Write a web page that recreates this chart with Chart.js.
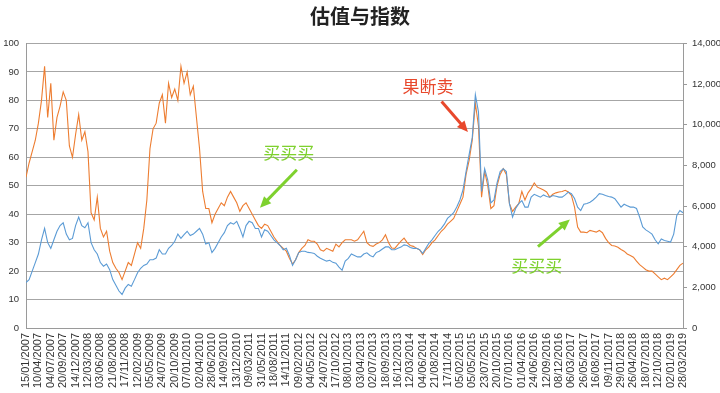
<!DOCTYPE html>
<html>
<head>
<meta charset="utf-8">
<script src="https://cdn.jsdelivr.net/npm/chart.js@4"></script>
<style>
  html, body { margin: 0; padding: 0; background: #fff; }
  #wrap { width: 720px; height: 393px; }
</style>
</head>
<body>
<div id="wrap"><canvas id="lineChart"></canvas></div>
<script>
// x axis labels, one every 4 points
const tickLabels = [
    '15/01/2007', '10/04/2007', '04/07/2007', '20/09/2007', '14/12/2007', '12/03/2008',
    '03/06/2008', '21/08/2008', '17/11/2008', '12/02/2009', '05/05/2009', '24/07/2009',
    '20/10/2009', '07/01/2010', '02/04/2010', '28/06/2010', '14/09/2010', '13/12/2010',
    '09/03/2011', '31/05/2011', '18/08/2011', '14/11/2011', '09/02/2012', '04/05/2012',
    '24/07/2012', '17/10/2012', '08/01/2013', '03/04/2013', '02/07/2013', '18/09/2013',
    '16/12/2013', '12/03/2014', '04/06/2014', '21/08/2014', '17/11/2014', '05/02/2015',
    '05/05/2015', '23/07/2015', '20/10/2015', '07/01/2016', '01/04/2016', '24/06/2016',
    '12/09/2016', '08/12/2016', '06/03/2017', '26/05/2017', '16/08/2017', '09/11/2017',
    '29/01/2018', '26/04/2018', '18/07/2018', '12/10/2018', '02/01/2019', '28/03/2019'
];
const pointsPerLabel = 4;

// valuation (left axis)
const valuation = [
    53, 58, 62, 66, 72, 80, 92, 74, 86, 66,
    74, 78, 83, 80, 64, 60, 68, 75, 66, 69,
    62, 40.5, 38, 46, 35, 32, 34, 27, 23, 21,
    19.5, 17, 20, 23, 22, 26, 30, 28, 35, 45,
    63, 70, 72, 79, 82, 72, 86, 81, 84, 80,
    92, 86, 90, 82, 85, 74, 63, 48, 42, 42,
    37, 40, 42, 44, 43, 46, 48, 46, 44, 41,
    43, 44, 42, 40, 38, 36, 35, 36.5, 36, 34,
    32, 30.5, 29, 28, 27, 24.5, 22.5, 24, 26.5, 28,
    29, 31, 30.5, 30.5, 29.5, 27.5, 27, 28, 27.5, 27,
    29.5, 28.5, 30, 31, 31, 31, 30.5, 31, 32.5, 34,
    30, 29, 28.7, 29.5, 30, 31, 32.8, 30, 28.1, 28,
    29.3, 30.5, 31.6, 30, 29, 28.7, 28, 27.5, 25.8, 27.5,
    28.5, 30, 31, 32.5, 34, 35, 36.5, 37.5, 38.5, 41,
    43.5, 46, 54, 59, 66, 79, 71, 46, 55, 50,
    42, 43, 50, 54, 56, 54, 43.7, 41, 42.5, 43.7,
    48, 45, 47.5, 49, 51, 49.5, 49, 48.5, 47.8, 46,
    47, 47.5, 47.8, 48, 48.4, 47.8, 46.6, 42.5, 35.5, 33.7,
    33.7, 33.5, 34.3, 34, 33.7, 34.3, 33.5, 31.5, 30, 29,
    28.8, 28.4, 27.6, 27, 26, 25.5, 24.9, 23.5, 22.3, 21.4,
    20.5, 20, 20, 19, 18, 17, 17.5, 17, 18, 19,
    20.5, 22, 22.8
];

// index level (right axis)
const indexLevel = [
    2240, 2380, 2800, 3220, 3640, 4340, 4900, 4200, 3920, 4340,
    4760, 5040, 5180, 4620, 4340, 4410, 5040, 5460, 5040, 4930,
    5180, 4200, 3850, 3640, 3220, 3040, 3150, 2870, 2380, 2100,
    1820, 1650, 1960, 2140, 2060, 2380, 2720, 2940, 3080, 3150,
    3360, 3360, 3440, 3850, 3640, 3640, 3920, 4060, 4270, 4620,
    4410, 4590, 4760, 4550, 4620, 4760, 4900, 4620, 4130, 4200,
    3710, 3920, 4200, 4480, 4690, 5040, 5180, 5110, 5250, 4900,
    4480, 5040, 5250, 5180, 4900, 4900, 4480, 4830, 4760, 4550,
    4340, 4200, 4060, 3850, 3920, 3570, 3080, 3360, 3710, 3780,
    3780, 3720, 3700, 3670, 3530, 3430, 3360, 3290, 3330, 3230,
    3190, 3000, 2840, 3290, 3430, 3640, 3570, 3500, 3500, 3640,
    3700, 3570, 3500, 3710, 3780, 3890, 3990, 3990, 3850, 3850,
    3920, 3980, 4090, 4060, 3960, 3920, 3920, 3850, 3670, 3920,
    4170, 4340, 4550, 4760, 4900, 5110, 5390, 5530, 5670, 5950,
    6300, 6790, 7700, 8540, 9380, 11480, 10640, 6720, 7840, 7280,
    6160, 6300, 7140, 7700, 7840, 7700, 6120, 5460, 5880, 6120,
    6270, 5950, 5950, 6440, 6580, 6510, 6440, 6550, 6470, 6440,
    6520, 6480, 6440, 6440, 6550, 6690, 6610, 6370, 5950, 5780,
    6090, 6130, 6190, 6300, 6440, 6610, 6580, 6520, 6470, 6440,
    6360, 6160, 5950, 6090, 6020, 5950, 5950, 5880, 5460, 4970,
    4830, 4730, 4620, 4340, 4140, 4380, 4310, 4270, 4230, 4620,
    5540, 5780, 5670
];

// callouts: text at [point, left value], arrow from -> to
const notes = [
    { text: '果断卖', color: '#e8482c', at: [129.7, 84.7], from: [134.1, 79.6], to: [142.6, 68.9] },
    { text: '买买买', color: '#7ed12e', at: [84.8, 61.6], from: [87.4, 55.6], to: [75.5, 42.3] },
    { text: '买买买', color: '#7ed12e', at: [164.8, 21.9], from: [165.2, 28.6], to: [175.5, 38.1] }
];

const toPoints = arr => arr.map((v, i) => ({ x: i, y: v }));

// draw the callouts on top of the lines
const calloutPlugin = {
    id: 'callouts',
    afterDatasetsDraw(chart) {
        const ctx = chart.ctx;
        const xs = chart.scales.x;
        const ys = chart.scales.yL;
        ctx.save();
        notes.forEach(n => {
            ctx.fillStyle = n.color;
            ctx.strokeStyle = n.color;
            ctx.font = '17px "Noto Sans CJK SC"';
            ctx.textAlign = 'center';
            ctx.textBaseline = 'middle';
            ctx.fillText(n.text, xs.getPixelForValue(n.at[0]), ys.getPixelForValue(n.at[1]));

            const x1 = xs.getPixelForValue(n.from[0]), y1 = ys.getPixelForValue(n.from[1]);
            const x2 = xs.getPixelForValue(n.to[0]), y2 = ys.getPixelForValue(n.to[1]);
            const ang = Math.atan2(y2 - y1, x2 - x1);
            const head = 11;
            ctx.lineWidth = 3;
            ctx.beginPath();
            ctx.moveTo(x1, y1);
            ctx.lineTo(x2 - Math.cos(ang) * head * 0.8, y2 - Math.sin(ang) * head * 0.8);
            ctx.stroke();
            ctx.beginPath();
            ctx.moveTo(x2, y2);
            ctx.lineTo(x2 - head * Math.cos(ang) + 5 * Math.sin(ang), y2 - head * Math.sin(ang) - 5 * Math.cos(ang));
            ctx.lineTo(x2 - head * Math.cos(ang) - 5 * Math.sin(ang), y2 - head * Math.sin(ang) + 5 * Math.cos(ang));
            ctx.closePath();
            ctx.fill();
        });
        ctx.restore();
    }
};

const ctx = document.getElementById('lineChart');

new Chart(ctx, {
    type: 'line',
    data: {
        datasets: [{
            label: '指数',
            data: toPoints(indexLevel),
            yAxisID: 'yR',
            borderColor: '#5b9bd5',
            borderWidth: 1.1,
            pointRadius: 0,
            fill: false
        }, {
            label: '估值',
            data: toPoints(valuation),
            yAxisID: 'yL',
            borderColor: '#ed7d31',
            borderWidth: 1.1,
            pointRadius: 0,
            fill: false
        }]
    },
    options: {
        responsive: true,
        maintainAspectRatio: false,
        animation: false,
        layout: { padding: 0 },
        plugins: {
            legend: { display: false },
            tooltip: { enabled: false },
            title: {
                display: true,
                text: '估值与指数',
                color: '#222',
                font: { family: '"Noto Sans CJK SC"', size: 20, weight: 'bold' },
                padding: { top: 4, bottom: 15.5 }
            }
        },
        scales: {
            x: {
                type: 'linear',
                min: 0,
                max: (tickLabels.length - 1) * pointsPerLabel,
                afterFit: s => { s.height = 65; },
                grid: { display: false, drawTicks: false },
                border: { color: '#9a9a9a' },
                ticks: {
                    stepSize: pointsPerLabel,
                    autoSkip: false,
                    minRotation: 90,
                    maxRotation: 90,
                    padding: 5,
                    color: '#333',
                    font: { family: 'Liberation Sans', size: 11 },
                    callback: v => tickLabels[Math.round(v / pointsPerLabel)]
                }
            },
            yL: {
                position: 'left',
                min: 0,
                max: 100,
                afterFit: s => { s.width = 26; },
                grid: { color: '#a6a6a6', lineWidth: 1, drawTicks: false },
                border: { color: '#9a9a9a' },
                ticks: {
                    stepSize: 10,
                    padding: 7,
                    color: '#333',
                    font: { family: 'Liberation Sans', size: 9.5 }
                }
            },
            yR: {
                position: 'right',
                min: 0,
                max: 14000,
                afterFit: s => { s.width = 37; },
                grid: { drawOnChartArea: false, tickLength: 4, color: '#9a9a9a' },
                border: { color: '#9a9a9a' },
                ticks: {
                    stepSize: 2000,
                    padding: 5,
                    color: '#333',
                    font: { family: 'Liberation Sans', size: 9.5 }
                }
            }
        }
    },
    plugins: [calloutPlugin]
});
</script>
</body>
</html>
